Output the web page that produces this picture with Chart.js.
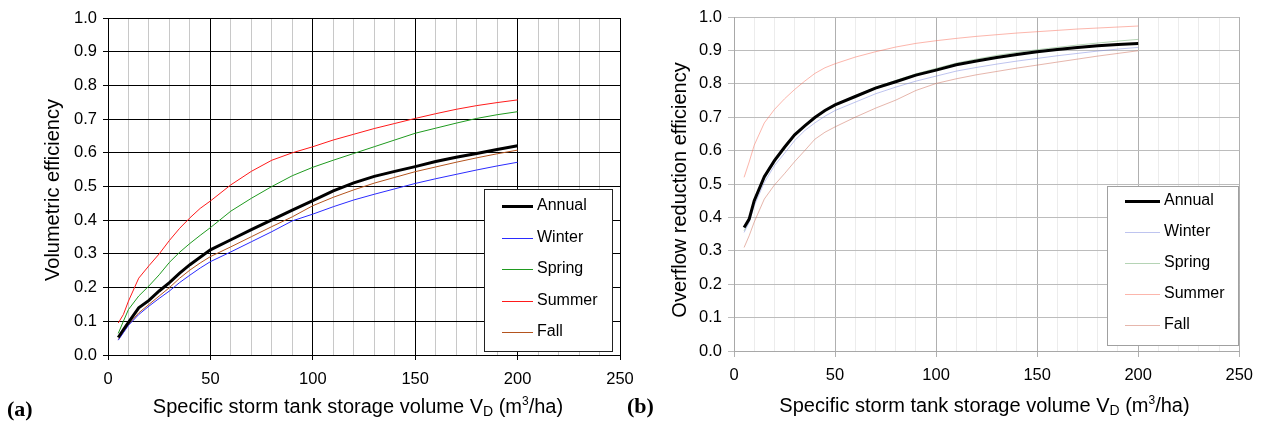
<!DOCTYPE html>
<html>
<head>
<meta charset="utf-8">
<script src="https://cdn.jsdelivr.net/npm/chart.js@4.4.1/dist/chart.umd.min.js"></script>
<style>
  html, body { margin: 0; padding: 0; background: #fff; }
  #wrap { position: relative; width: 1262px; height: 423px; overflow: hidden; }
  canvas { position: absolute; top: 0; }
  #chartA { left: 0; width: 650px; height: 423px; }
  #chartB { left: 620px; width: 642px; height: 423px; }
</style>
</head>
<body>
<div id="wrap">
  <canvas id="chartA" width="650" height="423"></canvas>
  <canvas id="chartB" width="642" height="423"></canvas>
</div>
<script>
// storage volume V_D (m3/ha) where the curves were sampled
const VOLUME = [5, 7.5, 10, 15, 20, 25, 30, 35, 40, 45, 50, 60, 70, 80, 90, 100, 110, 120, 130, 140, 150, 160, 170, 180, 190, 200];

// (a) volumetric efficiency
const VE_ANNUAL = [0.052, 0.075, 0.097, 0.14, 0.162, 0.19, 0.215, 0.243, 0.268, 0.29, 0.312, 0.342, 0.372, 0.401, 0.43, 0.458, 0.487, 0.511, 0.53, 0.545, 0.559, 0.574, 0.587, 0.598, 0.61, 0.621];
const VE_WINTER = [0.044, 0.066, 0.088, 0.12, 0.145, 0.168, 0.19, 0.215, 0.237, 0.258, 0.277, 0.306, 0.336, 0.366, 0.398, 0.418, 0.44, 0.46, 0.477, 0.493, 0.509, 0.523, 0.536, 0.549, 0.561, 0.572];
const VE_SPRING = [0.064, 0.10, 0.135, 0.175, 0.205, 0.238, 0.275, 0.305, 0.331, 0.355, 0.378, 0.427, 0.465, 0.50, 0.532, 0.557, 0.578, 0.598, 0.618, 0.638, 0.658, 0.673, 0.688, 0.702, 0.713, 0.722];
const VE_SUMMER = [0.095, 0.12, 0.16, 0.228, 0.265, 0.30, 0.34, 0.376, 0.407, 0.435, 0.457, 0.505, 0.545, 0.578, 0.60, 0.618, 0.638, 0.655, 0.672, 0.687, 0.702, 0.716, 0.729, 0.74, 0.749, 0.757];
const VE_FALL   = [0.046, 0.068, 0.09, 0.125, 0.15, 0.175, 0.2, 0.228, 0.252, 0.273, 0.292, 0.321, 0.351, 0.381, 0.41, 0.443, 0.468, 0.49, 0.51, 0.527, 0.544, 0.558, 0.572, 0.585, 0.597, 0.608];

// (b) overflow reduction efficiency
const OR_ANNUAL = [0.37, 0.395, 0.45, 0.522, 0.57, 0.61, 0.647, 0.674, 0.699, 0.72, 0.737, 0.762, 0.787, 0.806, 0.826, 0.841, 0.857, 0.868, 0.879, 0.888, 0.896, 0.903, 0.909, 0.914, 0.918, 0.921];
const OR_WINTER = [0.355, 0.385, 0.435, 0.505, 0.555, 0.592, 0.63, 0.66, 0.683, 0.703, 0.72, 0.745, 0.77, 0.79, 0.808, 0.823, 0.838, 0.849, 0.859, 0.868, 0.876, 0.884, 0.891, 0.898, 0.904, 0.909];
const OR_SPRING = [0.36, 0.39, 0.445, 0.515, 0.565, 0.605, 0.645, 0.676, 0.70, 0.72, 0.737, 0.764, 0.79, 0.81, 0.83, 0.846, 0.862, 0.874, 0.885, 0.894, 0.902, 0.909, 0.916, 0.922, 0.928, 0.933];
const OR_SUMMER = [0.52, 0.566, 0.616, 0.683, 0.723, 0.755, 0.783, 0.808, 0.831, 0.848, 0.86, 0.88, 0.896, 0.91, 0.921, 0.929, 0.936, 0.942, 0.947, 0.952, 0.956, 0.96, 0.964, 0.967, 0.97, 0.973];
const OR_FALL   = [0.31, 0.345, 0.386, 0.455, 0.497, 0.531, 0.567, 0.60, 0.634, 0.655, 0.671, 0.70, 0.727, 0.751, 0.78, 0.801, 0.815, 0.827, 0.837, 0.847, 0.856, 0.865, 0.874, 0.883, 0.891, 0.899];

const SEASONS = ['Annual', 'Winter', 'Spring', 'Summer', 'Fall'];
const X_TICKS = [0, 50, 100, 150, 200, 250];
const Y_TICKS = [0, 0.1, 0.2, 0.3, 0.4, 0.5, 0.6, 0.7, 0.8, 0.9, 1.0];

(function () {
  'use strict';

  const SANS = '"Liberation Sans", Arial, sans-serif';
  const SERIF = '"Liberation Serif", "Times New Roman", serif';

  const pts = (ys) => VOLUME.map((x, i) => ({ x: x, y: ys[i] }));
  const isMajor = (v) => X_TICKS.indexOf(v) !== -1;

  // titles (with sub/superscript), panel letter and boxed legend
  const panelDecor = {
    id: 'panelDecor',
    afterDraw(chart, args, o) {
      const ctx = chart.ctx;
      ctx.save();
      ctx.fillStyle = '#000';

      // y title
      ctx.save();
      ctx.translate(o.yTitleX, o.yTitleY);
      ctx.rotate(-Math.PI / 2);
      ctx.font = '20px ' + SANS;
      ctx.textAlign = 'center';
      ctx.textBaseline = 'middle';
      ctx.fillText(o.yTitle, 0, 0);
      ctx.restore();

      // x title, drawn piece by piece
      const parts = [
        { t: 'Specific storm tank storage volume V', f: '20px ', dy: 0 },
        { t: 'D', f: '14px ', dy: 3 },
        { t: ' (m', f: '20px ', dy: 0 },
        { t: '3', f: '12px ', dy: -8 },
        { t: '/ha)', f: '20px ', dy: 0 }
      ];
      let total = 0;
      parts.forEach(p => { ctx.font = p.f + SANS; p.w = ctx.measureText(p.t).width; total += p.w; });
      let x = o.xTitleCx - total / 2;
      ctx.textAlign = 'left';
      ctx.textBaseline = 'alphabetic';
      parts.forEach(p => { ctx.font = p.f + SANS; ctx.fillText(p.t, x, o.xTitleBase + p.dy); x += p.w; });

      // panel letter
      ctx.font = 'bold 22px ' + SERIF;
      ctx.fillText(o.panel, o.panelX, o.panelBase);

      // legend box
      const lg = o.legend;
      ctx.fillStyle = '#fff';
      ctx.fillRect(lg.x, lg.y, lg.w, lg.h);
      ctx.strokeStyle = lg.border;
      ctx.lineWidth = 1;
      ctx.strokeRect(lg.x + 0.5, lg.y + 0.5, lg.w, lg.h);
      ctx.font = '16px ' + SANS;
      ctx.textBaseline = 'middle';
      chart.data.datasets.forEach((ds, i) => {
        const ry = lg.row0 + i * lg.step;
        const w = ds.borderWidth;
        ctx.strokeStyle = ds.borderColor;
        ctx.lineWidth = w;
        ctx.beginPath();
        ctx.moveTo(lg.line0, Math.round(ry) + (w % 2 ? 0.5 : 0));
        ctx.lineTo(lg.line1, Math.round(ry) + (w % 2 ? 0.5 : 0));
        ctx.stroke();
        ctx.fillStyle = '#000';
        ctx.fillText(ds.label, lg.textX, ry);
      });
      ctx.restore();
    }
  };

  function panelChart(id, series, colors, theme, decor) {
    const el = document.getElementById(id);
    if (!el || typeof Chart === 'undefined') return null;
    const datasets = SEASONS.map((name, i) => ({
      label: name,
      data: pts(series[i]),
      borderColor: colors[i],
      borderWidth: i === 0 ? 3 : 1,
      pointRadius: 0,
      tension: 0,
      fill: false
    }));
    return new Chart(el.getContext('2d'), {
      type: 'line',
      data: { datasets: datasets },
      options: {
        responsive: false,
        animation: false,
        events: [],
        layout: { padding: { top: theme.top, right: theme.right, left: 0, bottom: 0 } },
        plugins: { legend: { display: false }, tooltip: { enabled: false }, panelDecor: decor },
        scales: {
          x: {
            type: 'linear', min: 0, max: 250,
            afterFit: (s) => { s.height = theme.xHeight; },
            ticks: {
              stepSize: 10, autoSkip: false, maxRotation: 0, padding: theme.xPad,
              color: '#000', font: { family: SANS, size: 16.5 },
              callback: (v) => isMajor(v) ? String(v) : ''
            },
            grid: {
              lineWidth: 1, tickLength: theme.tick,
              color: (c) => isMajor(c.tick.value) ? theme.major : theme.minor,
              tickColor: (c) => isMajor(c.tick.value) ? theme.major : 'rgba(0,0,0,0)'
            },
            border: { color: theme.border, width: 1 }
          },
          y: {
            min: 0, max: 1,
            afterFit: (s) => { s.width = theme.yWidth; },
            afterBuildTicks: (s) => { s.ticks = Y_TICKS.map(v => ({ value: v })); },
            ticks: {
              padding: theme.yPad, color: '#000', font: { family: SANS, size: 16.5 },
              callback: (v) => Number(v).toFixed(1)
            },
            grid: { lineWidth: 1, tickLength: theme.tick, color: theme.hgrid, tickColor: theme.hgrid },
            border: { color: theme.border, width: 1 }
          }
        }
      },
      plugins: [panelDecor]
    });
  }

  // (a) bright colours, black grid
  panelChart('chartA',
    [VE_ANNUAL, VE_WINTER, VE_SPRING, VE_SUMMER, VE_FALL],
    ['#000000', '#2b2bff', '#1f9a1f', '#ff1a1a', '#b4541e'],
    { top: 18, right: 30, xHeight: 68, yWidth: 108, tick: 5, xPad: 10, yPad: 6,
      major: '#000', minor: '#c8c8c8', hgrid: '#000', border: '#000' },
    { yTitle: 'Volumetric efficiency', yTitleX: 53, yTitleY: 190,
      xTitleCx: 358, xTitleBase: 413, panel: '(a)', panelX: 7, panelBase: 416,
      legend: { x: 484, y: 189, w: 128, h: 162, border: '#222', row0: 206, step: 31.5, line0: 502, line1: 533, textX: 537 } });

  // (b) pale seasonal curves, grey grid
  panelChart('chartB',
    [OR_ANNUAL, OR_WINTER, OR_SPRING, OR_SUMMER, OR_FALL],
    ['#000000', 'rgba(110,125,220,0.45)', 'rgba(90,160,90,0.45)', 'rgba(250,110,90,0.5)', 'rgba(205,110,90,0.5)'],
    { top: 17, right: 19, xHeight: 72, yWidth: 114, tick: 6, xPad: 9, yPad: 6,
      major: '#b0b0b0', minor: '#ececec', hgrid: '#bcbcbc', border: '#a8a8a8' },
    { yTitle: 'Overflow reduction efficiency', yTitleX: 60, yTitleY: 190,
      xTitleCx: 364.5, xTitleBase: 412, panel: '(b)', panelX: 7, panelBase: 413,
      legend: { x: 487, y: 186, w: 131, h: 159, border: '#a0a0a0', row0: 201, step: 31, line0: 505, line1: 540, textX: 544 } });
})();
</script>
</body>
</html>
